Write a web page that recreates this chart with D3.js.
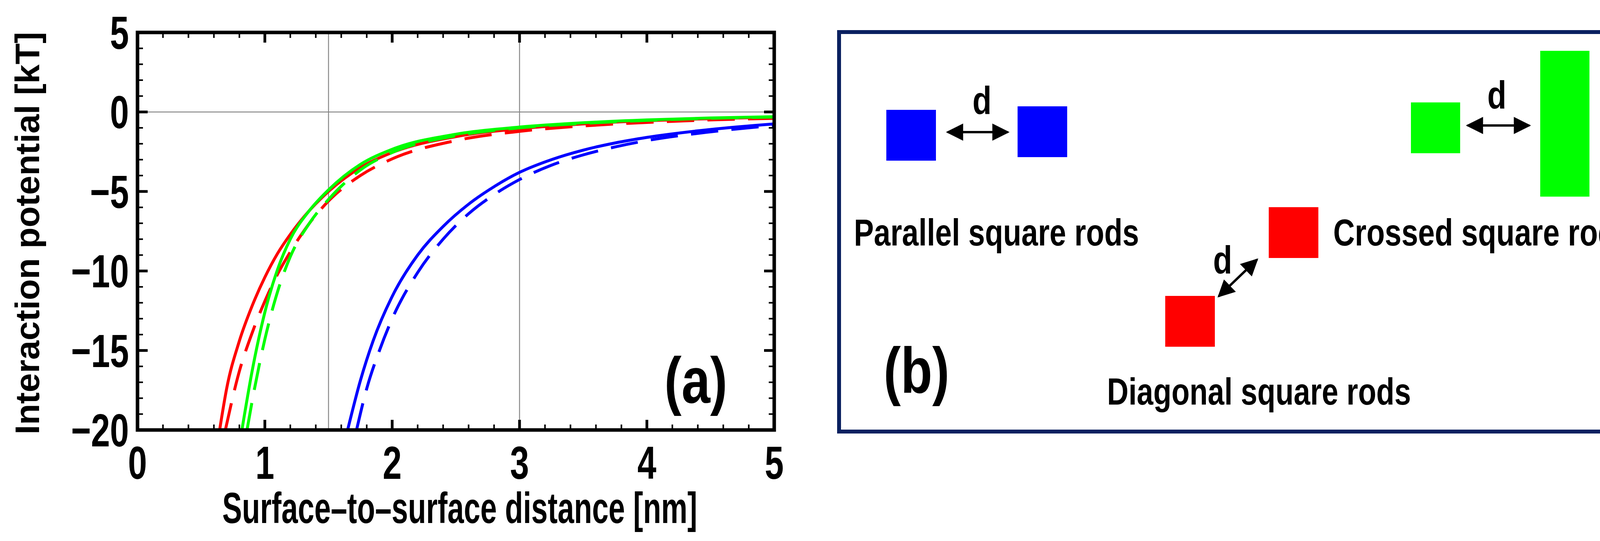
<!DOCTYPE html>
<html><head><meta charset="utf-8">
<script src="https://cdn.jsdelivr.net/npm/d3@7"></script>
<style>body{margin:0;background:#fff}</style>
</head><body><div id="screen"></div>
<script>
// values
const xTicks = [0, 1, 2, 3, 4, 5];
const yTicks = [5, 0, -5, -10, -15, -20];
const redSolidX = [0.645, 0.7, 0.8, 0.9, 1.0, 1.1, 1.2, 1.35, 1.5, 1.75, 2.0, 2.5, 3.0, 3.5, 4.0, 4.5, 5.0];
const redSolidY = [-20, -17.4, -14.4, -12.2, -10.4, -8.9, -7.7, -6.2, -5.0, -3.5, -2.55, -1.55, -1.05, -0.75, -0.55, -0.42, -0.33];
const redDashX = [0.69, 0.8, 0.9, 1.0, 1.1, 1.2, 1.35, 1.5, 1.75, 2.0, 2.5, 3.0, 3.5, 4.0, 4.5, 5.0];
const redDashY = [-20, -16.3, -13.9, -11.9, -10.2, -8.8, -7.0, -5.6, -4.0, -2.95, -1.8, -1.22, -0.88, -0.66, -0.5, -0.4];
const greenSolidX = [0.82, 0.9, 1.0, 1.1, 1.2, 1.35, 1.5, 1.75, 2.0, 2.5, 3.0, 3.5, 4.0, 4.5, 5.0];
const greenSolidY = [-20, -16.3, -12.6, -9.9, -8.0, -6.2, -4.9, -3.3, -2.35, -1.4, -0.95, -0.68, -0.5, -0.38, -0.3];
const greenDashX = [0.86, 0.9, 1.0, 1.1, 1.2, 1.35, 1.5, 1.75, 2.0, 2.5, 3.0, 3.5, 4.0, 4.5, 5.0];
const greenDashY = [-20, -18.2, -14.3, -11.3, -9.1, -7.0, -5.5, -3.65, -2.55, -1.5, -1.0, -0.72, -0.53, -0.4, -0.32];
const blueSolidX = [1.65, 1.75, 1.85, 2.0, 2.2, 2.4, 2.6, 2.8, 3.0, 3.25, 3.5, 3.75, 4.0, 4.5, 5.0];
const blueSolidY = [-20, -16.9, -14.4, -11.6, -9.0, -7.2, -5.8, -4.7, -3.8, -3.0, -2.4, -1.95, -1.6, -1.1, -0.75];
const blueDashX = [1.72, 1.8, 1.9, 2.0, 2.2, 2.4, 2.6, 2.8, 3.0, 3.25, 3.5, 3.75, 4.0, 4.5, 5.0];
const blueDashY = [-20, -17.4, -15.0, -13.0, -10.1, -8.0, -6.4, -5.2, -4.25, -3.35, -2.7, -2.2, -1.8, -1.25, -0.85];
const series = [
  {xs: redSolidX, ys: redSolidY, color: "#ff0000", dash: null},
  {xs: redDashX, ys: redDashY, color: "#ff0000", dash: "70,34"},
  {xs: blueSolidX, ys: blueSolidY, color: "#0000ff", dash: null},
  {xs: blueDashX, ys: blueDashY, color: "#0000ff", dash: "70,34"},
  {xs: greenDashX, ys: greenDashY, color: "#00ff00", dash: "70,34"},
  {xs: greenSolidX, ys: greenSolidY, color: "#00ff00", dash: null}
];
const gridX = [1.5, 3];
const gridY = [0];

const W = 4324, H = 1384;
const svg = d3.select("#screen").append("svg").attr("width", W).attr("height", H);
const font = "'Liberation Sans', Arial, sans-serif";

// condensed bold text (squeezed horizontally)
const ctext = function(parent, tx, ty, str, size, anchor, sx) {
  return parent.append("text")
    .attr("transform", `translate(${tx},${ty}) scale(${sx || 0.74},1)`)
    .attr("text-anchor", anchor).attr("font-family", font).attr("font-weight", "bold")
    .attr("font-size", size).text(str);
};

const L = 352, R = 1982, T = 83, B = 1100;
const x = d3.scaleLinear().domain([0, 5]).range([L, R]);
const y = d3.scaleLinear().domain([-20, 5]).range([B, T]);
const g = svg.append("g");

// grid
gridX.forEach(v => g.append("line").attr("x1", x(v)).attr("x2", x(v)).attr("y1", T).attr("y2", B)
  .attr("stroke", "#888").attr("stroke-width", 2.5));
gridY.forEach(v => g.append("line").attr("x1", L).attr("x2", R).attr("y1", y(v)).attr("y2", y(v))
  .attr("stroke", "#888").attr("stroke-width", 2.5));

// curves
svg.append("clipPath").attr("id", "c").append("rect")
  .attr("x", L).attr("y", T).attr("width", R - L).attr("height", B - T);
series.forEach(s => {
  const pts = s.xs.map((v, i) => [v, s.ys[i]]);
  g.append("path").attr("clip-path", "url(#c)")
    .attr("d", d3.line().x(d => x(d[0])).y(d => y(d[1])).curve(d3.curveMonotoneX)(pts))
    .attr("fill", "none").attr("stroke", s.color).attr("stroke-width", 7.5)
    .attr("stroke-dasharray", s.dash);
});

// ticks on all sides (inward)
const minorX = d3.range(0, 5.001, 0.2), minorY = d3.range(-20, 5.001, 1);
minorX.forEach(v => {
  const major = Math.abs(v - Math.round(v)) < 1e-6;
  const len = major ? 26 : 14;
  [[B, -len], [T, len]].forEach(([yy, d]) => g.append("line").attr("x1", x(v)).attr("x2", x(v))
    .attr("y1", yy).attr("y2", yy + d).attr("stroke", "#000").attr("stroke-width", major ? 7 : 4));
});
minorY.forEach(v => {
  const major = v % 5 === 0;
  const len = major ? 26 : 14;
  [[L, len], [R, -len]].forEach(([xx, d]) => g.append("line").attr("y1", y(v)).attr("y2", y(v))
    .attr("x1", xx).attr("x2", xx + d).attr("stroke", "#000").attr("stroke-width", major ? 7 : 4));
});
g.append("rect").attr("x", L).attr("y", T).attr("width", R - L).attr("height", B - T)
  .attr("fill", "none").attr("stroke", "#000").attr("stroke-width", 9);

// tick labels
xTicks.forEach(v => ctext(g, x(v), B + 125, v, 118, "middle"));
yTicks.forEach(v => ctext(g, L - 22, y(v) + 42, v < 0 ? "\u2212" + (-v) : v, 118, "end"));

g.append("text").attr("x", (L + R) / 2 + 10).attr("y", 1338).attr("text-anchor", "middle")
  .attr("font-family", font).attr("font-weight", "bold").attr("font-size", 112)
  .attr("textLength", 1216).attr("lengthAdjust", "spacingAndGlyphs")
  .text("Surface\u2013to\u2013surface distance [nm]");
g.append("text").attr("transform", `translate(100,${(T + B) / 2 + 5}) rotate(-90)`).attr("text-anchor", "middle")
  .attr("font-family", font).attr("font-weight", "bold").attr("font-size", 88)
  .attr("textLength", 1030).attr("lengthAdjust", "spacingAndGlyphs")
  .text("Interaction potential [kT]");
ctext(g, 1862, 1030, "(a)", 165, "end", 0.8);

// panel (b)
const p = svg.append("g");
p.append("rect").attr("x", 2148).attr("y", 82).attr("width", 2124).attr("height", 1022)
  .attr("fill", "none").attr("stroke", "#0a2060").attr("stroke-width", 10);
const rods = [
  [2269, 281, 127, 130, "#0000ff"], [2605, 272, 127, 130, "#0000ff"],
  [3612, 262, 126, 130, "#00ff00"], [3943, 130, 126, 373, "#00ff00"],
  [3248, 530, 127, 130, "#ff0000"], [2983, 757, 127, 130, "#ff0000"]
];
rods.forEach(r => p.append("rect").attr("x", r[0]).attr("y", r[1]).attr("width", r[2]).attr("height", r[3]).attr("fill", r[4]));
svg.append("defs").append("marker").attr("id", "ah").attr("viewBox", "0 0 10 10").attr("refX", 9).attr("refY", 5)
  .attr("markerUnits", "userSpaceOnUse").attr("orient", "auto-start-reverse")
  .attr("markerWidth", 44).attr("markerHeight", 44)
  .append("path").attr("d", "M0,0L10,5L0,10z").attr("fill", "#000");
const arrows = [[2426, 338, 2580, 338], [3757, 321, 3915, 321], [3120, 758, 3218, 664]];
arrows.forEach(a => p.append("line").attr("x1", a[0]).attr("y1", a[1]).attr("x2", a[2]).attr("y2", a[3])
  .attr("stroke", "#000").attr("stroke-width", 6).attr("marker-start", "url(#ah)").attr("marker-end", "url(#ah)"));
const dLabels = [[2514, 292], [3832, 278], [3130, 700]];
dLabels.forEach(l => ctext(p, l[0], l[1], "d", 100, "middle", 0.8));
const names = [
  [2186, 628, "Parallel square rods", 730], [3413, 628, "Crossed square rods", 767],
  [2834, 1035, "Diagonal square rods", 778]
];
names.forEach(l => p.append("text").attr("x", l[0]).attr("y", l[1])
  .attr("font-family", font).attr("font-weight", "bold").attr("font-size", 96)
  .attr("textLength", l[3]).attr("lengthAdjust", "spacingAndGlyphs").text(l[2]));
ctext(p, 2262, 1005, "(b)", 165, "start", 0.8);
</script></body></html>
